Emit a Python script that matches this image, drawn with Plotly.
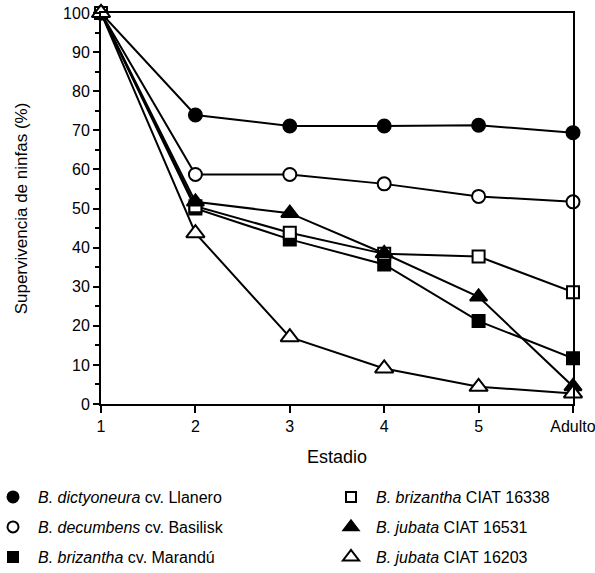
import plotly.graph_objects as go

stages = ["1", "2", "3", "4", "5", "Adulto"]

llanero = [100, 73.9, 71.1, 71.1, 71.3, 69.4]
basilisk = [100, 58.7, 58.7, 56.3, 53.1, 51.7]
marandu = [100, 50.0, 42.1, 35.7, 21.2, 11.7]
ciat16338 = [100, 50.6, 43.8, 38.4, 37.7, 28.6]
ciat16531 = [100, 51.7, 48.8, 38.5, 27.4, 4.5]
ciat16203 = [100, 43.7, 17.1, 9.1, 4.4, 2.7]

names = {
    "llanero": "<i>B. dictyoneura</i> cv. Llanero",
    "basilisk": "<i>B. decumbens</i> cv. Basilisk",
    "marandu": "<i>B. brizantha</i> cv. Marandú",
    "c16338": "<i>B. brizantha</i> CIAT 16338",
    "c16531": "<i>B. jubata</i> CIAT 16531",
    "c16203": "<i>B. jubata</i> CIAT 16203",
}

# key, values, symbol, filled, size, legend id, legend column, legend row
series = [
    ("llanero", llanero, "circle", True, 13, "legend", 0, 0),
    ("basilisk", basilisk, "circle", False, 13, "legend2", 0, 1),
    ("marandu", marandu, "square", True, 12, "legend3", 0, 2),
    ("c16338", ciat16338, "square", False, 12, "legend4", 1, 0),
    ("c16531", ciat16531, "triangle-up", True, 15, "legend5", 1, 1),
    ("c16203", ciat16203, "triangle-up", False, 16, "legend6", 1, 2),
]

W, H = 595, 573
PL, PR, PT, PB = 101, 573, 13, 404  # plot area in pixels

fig = go.Figure()
xs = list(range(len(stages)))
for key, vals, sym, filled, sz, lg, col, row in series:
    fig.add_trace(go.Scatter(
        x=xs, y=vals, mode="lines+markers",
        line=dict(color="black", width=2),
        marker=dict(symbol=sym, size=sz, color="black" if filled else "white",
                    line=dict(color="black", width=2)),
        showlegend=False, cliponaxis=False))

font = dict(family="Liberation Sans, Arial, sans-serif", size=16, color="black")

legend_px_x = [-12, 326]
legend_px_y = [497, 527, 557]

layout_legends = {}
for key, vals, sym, filled, sz, lg, col, row in series:
    fig.add_trace(go.Scatter(
        x=[None], y=[None], mode="markers", name=names[key],
        marker=dict(symbol=sym, size=sz - 2, color="black" if filled else "white",
                    line=dict(color="black", width=2)),
        showlegend=True, legend=lg))
    layout_legends[lg] = dict(
        x=(legend_px_x[col] - PL) / (PR - PL), y=1 - legend_px_y[row] / H,
        xref="paper", yref="container",
        xanchor="left", yanchor="middle", orientation="h",
        font=font, bgcolor="rgba(0,0,0,0)", itemwidth=40)

fig.update_layout(
    width=W, height=H,
    margin=dict(l=PL, r=W - PR, t=PT, b=H - PB, autoexpand=False),
    paper_bgcolor="white", plot_bgcolor="white",
    font=font,
    **layout_legends,
    xaxis=dict(
        range=[-0.0001, 5.0001], tickvals=xs, ticktext=stages,
        showline=True, linecolor="black", linewidth=2, mirror=True,
        ticks="outside", ticklen=7, tickwidth=2, tickcolor="black",
        showgrid=False, zeroline=False, automargin=False,
        ticklabeloverflow="allow",
        tickfont=dict(size=16),
        title=dict(text="Estadio", font=dict(size=18), standoff=16),
    ),
    yaxis=dict(
        range=[0, 100], dtick=10,
        showline=True, linecolor="black", linewidth=2, mirror=True,
        ticks="outside", ticklen=6, tickwidth=2, tickcolor="black",
        minor=dict(dtick=5, ticks="outside", ticklen=4, tickwidth=1.5, tickcolor="black"),
        showgrid=False, zeroline=False, automargin=False,
        ticklabeloverflow="allow",
        tickfont=dict(size=16),
        title=dict(text="Supervivencia de ninfas (%)", font=dict(size=17), standoff=31),
    ),
)

fig.write_html("out.html",
               config={"displayModeBar": False},
               post_script="document.body.style.margin='0';document.body.style.padding='0';")
